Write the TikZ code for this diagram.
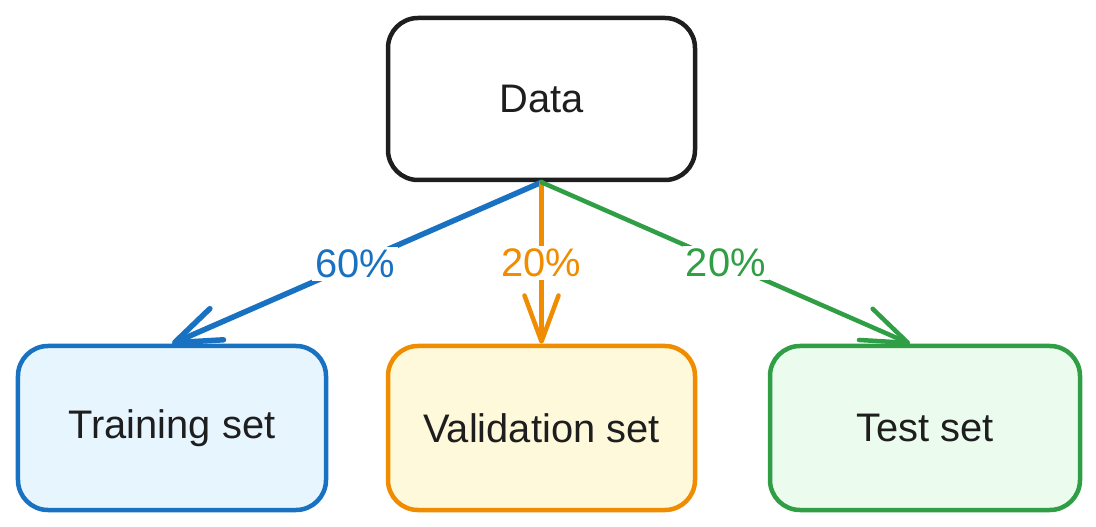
\documentclass[tikz,border=0pt]{standalone}
\usepackage{fontspec}
\setmainfont{Liberation Sans}
\usetikzlibrary{arrows.meta}
\definecolor{ink}{HTML}{1E1E1E}
\definecolor{bluestroke}{HTML}{1971C2}
\definecolor{bluefill}{HTML}{E7F5FF}
\definecolor{orangestroke}{HTML}{F08C00}
\definecolor{orangefill}{HTML}{FFF9DB}
\definecolor{greenstroke}{HTML}{2F9E44}
\definecolor{greenfill}{HTML}{EBFBEE}
\tikzset{
  box/.style={draw, line width=4.5bp, rounded corners=30bp, text=ink,
    minimum width=307bp, minimum height=162bp, inner sep=0pt,
    font=\fontsize{40}{48}\selectfont},
  link/.style={line width=4.5bp, line cap=round, line join=round,
    -{Straight Barb[length=46bp,width=34bp,round]}},
  pct/.style={fill=white, inner sep=3bp, font=\fontsize{40}{48}\selectfont}
}
\begin{document}
\begin{tikzpicture}[x=1bp, y=-1bp]
  \useasboundingbox (0,0) rectangle (1096,527);
  % source box
  \node[box, draw=ink, fill=white] (data) at (541.5,99) {Data};
  % the three splits
  \node[box, draw=bluestroke, fill=bluefill, minimum width=308bp, minimum height=164bp] (train) at (172,428) {Training set};
  \node[box, draw=orangestroke, fill=orangefill, minimum height=164bp] (val) at (541.5,428) {Validation set};
  \node[box, draw=greenstroke, fill=greenfill, minimum width=310bp, minimum height=164bp] (test) at (925,428) {Test set};
  % connectors with their shares
  \draw[link, bluestroke, line width=5.5bp] (data.south) -- node[pct, text=bluestroke, pos=0.505] {60\%} (train.north);
  \draw[link, orangestroke] (data.south) -- node[pct, text=orangestroke] {20\%} (val.north);
  \draw[link, greenstroke] (data.south) -- node[pct, text=greenstroke, pos=0.5] {20\%} ([xshift=-15bp]test.north);
\end{tikzpicture}
\end{document}
